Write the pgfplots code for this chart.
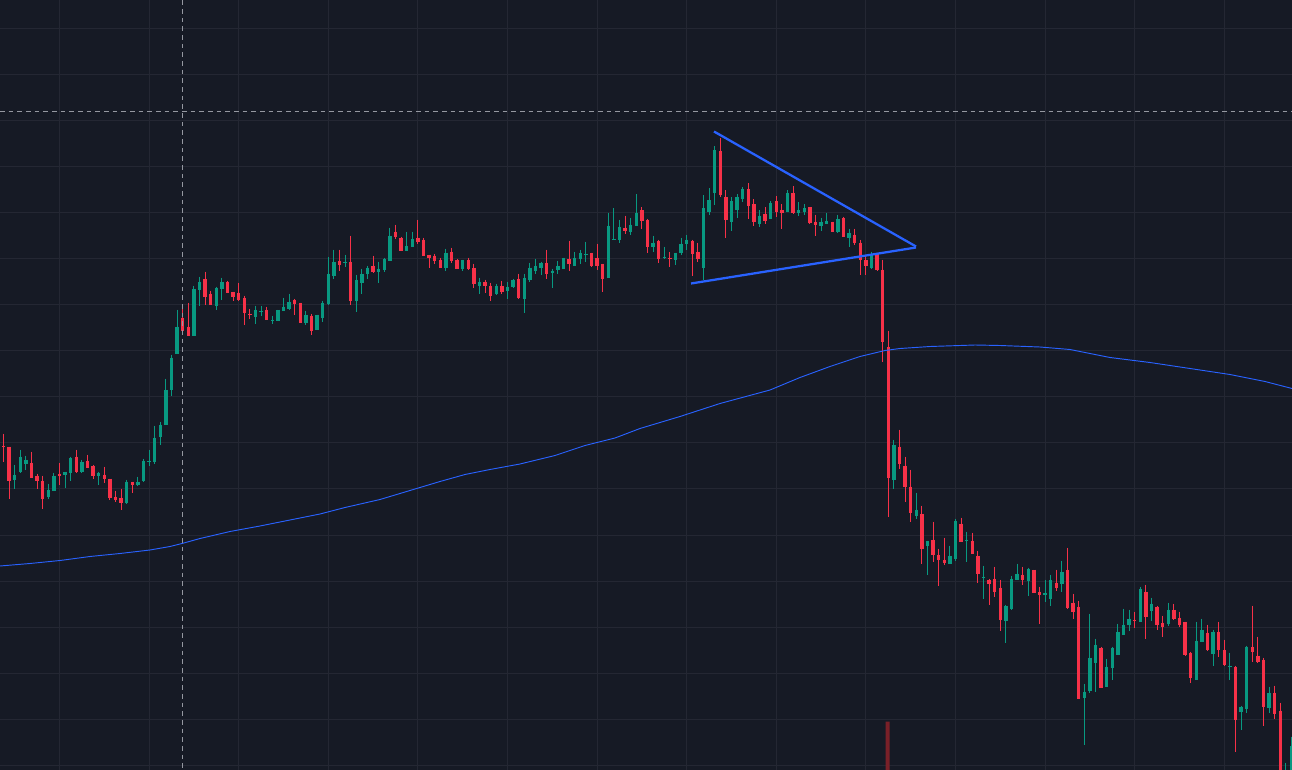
\documentclass[border=0pt]{standalone}
\usepackage{pgfplots}
\usepackage{pgfplotstable}
\pgfplotsset{compat=1.18}
\definecolor{bg}{RGB}{22,26,37}
\definecolor{gridc}{RGB}{36,39,51}
\definecolor{up}{RGB}{8,153,129}
\definecolor{down}{RGB}{247,49,72}
\definecolor{ma}{RGB}{41,98,255}
\definecolor{cross}{RGB}{149,152,161}
\definecolor{vol}{RGB}{122,32,40}
\pgfplotstableread{
n hi top bot lo
0 433 445 446 461
1 446 446 480 498
5 451 462 477 477
6 473 475 480 488
7 475 480 498 508
10 462 473 475 484
13 449 456 471 472
15 454 460 467 467
16 464 465 475 478
18 466 474 478 482
19 478 478 497 499
20 490 496 499 501
21 488 497 502 509
23 481 481 484 492
32 308 317 330 330
33 302 326 335 335
36 271 278 296 304
37 290 293 304 304
40 280 281 292 292
41 291 291 296 300
42 282 292 299 300
43 295 297 312 324
44 308 313 314 318
47 306 309 319 319
52 298 299 303 314
53 302 302 322 322
55 313 315 330 334
60 249 260 264 270
62 235 261 300 304
66 255 265 271 272
70 224 231 236 238
71 236 237 250 250
74 219 237 241 243
75 237 239 255 255
76 254 254 257 267
77 253 255 260 263
78 257 259 267 267
80 247 251 260 262
81 258 259 268 268
83 257 259 268 269
84 263 267 283 287
86 279 281 285 292
87 282 285 295 300
89 280 285 291 293
92 273 278 297 298
97 249 262 273 278
101 240 258 263 270
105 252 252 265 266
106 243 257 265 269
107 263 263 278 291
111 215 227 230 233
114 207 210 220 228
115 218 219 246 252
117 239 240 258 262
119 251 257 258 266
123 239 240 253 275
124 242 251 258 261
128 138 151 195 197
129 190 197 219 237
133 183 189 206 218
134 199 204 221 225
136 207 213 220 223
138 196 201 211 216
139 204 210 212 228
141 186 193 212 213
144 207 207 222 223
145 214 221 224 235
148 221 221 231 231
150 216 217 236 236
152 228 234 242 244
153 239 242 259 274
154 255 259 265 274
156 252 253 269 270
157 259 269 341 361
158 330 346 477 516
160 429 446 463 468
161 456 465 486 501
162 469 486 512 521
164 505 513 548 563
166 521 539 554 561
167 548 554 559 585
168 537 559 562 564
171 517 523 541 541
173 532 540 553 553
174 550 555 573 582
176 578 579 583 604
177 566 578 591 596
178 579 587 619 630
182 566 574 579 584
184 569 569 592 592
185 586 591 594 623
188 569 582 587 590
190 547 569 607 608
191 593 602 611 618
192 600 606 698 698
196 646 647 687 687
202 611 619 620 627
204 584 591 616 638
206 605 606 624 629
207 615 622 626 636
209 603 609 618 619
210 611 617 624 626
211 621 621 654 655
212 651 652 677 682
215 624 632 649 650
217 621 631 649 656
218 639 649 664 665
220 665 666 719 751
223 605 646 651 661
224 636 655 661 662
225 657 659 706 725
227 685 692 713 718
228 702 710 775 780
}\redT
\pgfplotstableread{
n hi top bot lo
2 464 474 479 488
3 449 456 471 472
4 455 459 463 469
8 483 489 496 498
9 472 475 490 490
11 471 471 474 487
12 456 457 472 480
14 459 461 471 472
17 471 472 475 484
22 479 481 502 503
24 476 481 484 485
25 458 460 480 481
26 449 460 461 465
27 425 437 461 463
28 421 424 436 444
29 378 389 424 424
30 354 357 389 395
31 309 326 353 353
34 285 288 335 335
35 276 281 289 305
38 286 287 305 309
39 277 281 288 299
45 305 309 316 323
46 305 310 311 315
48 315 319 320 323
49 309 309 320 320
50 297 306 310 310
51 293 301 308 309
54 310 314 322 324
56 314 314 329 329
57 300 302 317 321
58 256 273 303 304
59 249 261 275 278
61 254 261 262 266
63 274 279 300 311
64 268 273 282 293
65 265 267 273 278
67 261 268 271 282
68 257 258 269 271
69 227 235 260 260
72 231 245 250 250
73 231 238 246 246
79 248 252 267 270
82 259 259 268 270
85 277 281 285 293
88 283 285 293 294
90 281 286 290 298
91 278 279 286 287
93 273 277 298 312
94 262 267 279 281
95 258 265 270 273
96 261 262 267 274
98 268 270 272 287
99 260 265 269 273
100 257 257 268 268
102 251 257 265 265
103 249 252 258 263
104 241 253 254 261
108 212 225 277 277
109 208 238 239 239
110 219 226 239 242
112 217 224 231 234
113 194 212 225 225
116 235 242 246 251
118 246 256 257 258
120 252 252 259 264
121 237 243 252 254
122 234 239 243 249
125 195 208 267 279
126 188 200 211 214
127 146 150 193 205
130 197 201 221 230
131 194 197 210 217
132 187 189 199 202
135 210 215 223 226
137 201 203 218 218
140 190 193 211 211
142 202 210 212 215
143 204 208 211 214
146 217 221 225 230
147 212 220 223 223
149 214 218 231 232
151 228 232 237 246
155 251 254 267 268
159 439 444 479 488
163 492 509 515 518
165 540 540 545 574
169 545 555 563 563
170 518 520 558 560
172 531 539 540 561
175 565 576 577 598
179 604 605 620 642
180 575 578 608 609
181 563 573 579 579
183 567 568 580 595
186 579 592 594 601
187 574 579 598 605
189 560 571 583 591
193 683 691 697 744
194 613 657 690 692
195 638 644 662 691
197 658 666 686 686
198 646 647 667 679
199 623 631 654 654
200 608 624 634 634
201 609 618 624 630
203 586 588 621 621
205 597 603 610 620
208 602 609 623 625
213 621 640 679 679
214 618 629 641 641
216 629 631 653 665
219 652 665 666 679
221 705 706 711 729
222 645 646 708 712
226 686 692 707 712
229 762 769 775 780
230 736 745 775 780
}\greenT
\begin{document}
\begin{tikzpicture}
\begin{axis}[
  name=ax,
  scale only axis, width=969pt, height=577.5pt,
  xmin=0, xmax=1292, ymin=-0.5, ymax=769.5, y dir=reverse,
  axis background/.style={fill=bg},
  axis line style={draw=none},
  xtick={59.5,149,238.5,328,417.5,507,597,686.5,776,865.5,955,1045,1134.5,1224},
  ytick={28,74,120,166,212,258,304,350,396,442,488,535,581,627,673,719,765},
  xticklabels={}, yticklabels={},
  tick style={draw=none},
  xmajorgrids, ymajorgrids,
  major grid style={draw=gridc, line width=0.75pt},
]
% volume bar
\addplot[fill=vol, draw=none, forget plot] coordinates {(885.5,721) (889.5,721) (889.5,770) (885.5,770) (885.5,721)};
% wicks and bodies
\addplot[draw=none, forget plot, error bars/.cd, y dir=plus, y explicit, error mark=none,
  error bar style={line width=0.75pt, draw=up}]
  table[x expr=3.5+5.6*\thisrow{n}, y=hi, y error plus expr=\thisrow{lo}-\thisrow{hi}] {\greenT};
\addplot[draw=none, forget plot, error bars/.cd, y dir=plus, y explicit, error mark=none,
  error bar style={line width=2.5pt, draw=up}]
  table[x expr=3.5+5.6*\thisrow{n}, y=top, y error plus expr=\thisrow{bot}-\thisrow{top}] {\greenT};
\addplot[draw=none, forget plot, error bars/.cd, y dir=plus, y explicit, error mark=none,
  error bar style={line width=0.75pt, draw=down}]
  table[x expr=3.5+5.6*\thisrow{n}, y=hi, y error plus expr=\thisrow{lo}-\thisrow{hi}] {\redT};
\addplot[draw=none, forget plot, error bars/.cd, y dir=plus, y explicit, error mark=none,
  error bar style={line width=2.5pt, draw=down}]
  table[x expr=3.5+5.6*\thisrow{n}, y=top, y error plus expr=\thisrow{bot}-\thisrow{top}] {\redT};
% moving average
\addplot[ma, line width=0.7pt, forget plot] coordinates {
(0,565.5)(30,563)(60,560)(90,556)(120,553)(150,549.5)(170,546)(182,543)(200,538)(230,531)
(260,525.5)(290,519.5)(320,513.5)(345,507)(380,499)(410,490)(440,481)(465,474)(490,469)
(520,463.5)(555,455)(585,445)(615,437.5)(640,428)(680,416)(720,403)(770,389.5)(800,377)
(830,366)(860,356)(885,350)(900,348)(930,346)(975,344.5)(1000,345)(1040,346.5)(1070,349)
(1110,357)(1150,362)(1190,368)(1230,374)(1265,381)(1292,388)};
% triangle
\addplot[ma, line width=1.7pt, forget plot] coordinates {(714,131)(916,246)};
\addplot[ma, line width=1.7pt, forget plot] coordinates {(691,283)(916,247)};
% crosshair
\addplot[cross, line width=0.75pt, dash pattern=on 3.5pt off 3pt, forget plot] coordinates {(182,0)(182,770)};
\addplot[cross, line width=0.75pt, dash pattern=on 3.5pt off 3pt, forget plot] coordinates {(0,111)(1292,111)};
\end{axis}
\pgfresetboundingbox
\path[use as bounding box] (ax.south west) rectangle (ax.north east);
\end{tikzpicture}
\end{document}
